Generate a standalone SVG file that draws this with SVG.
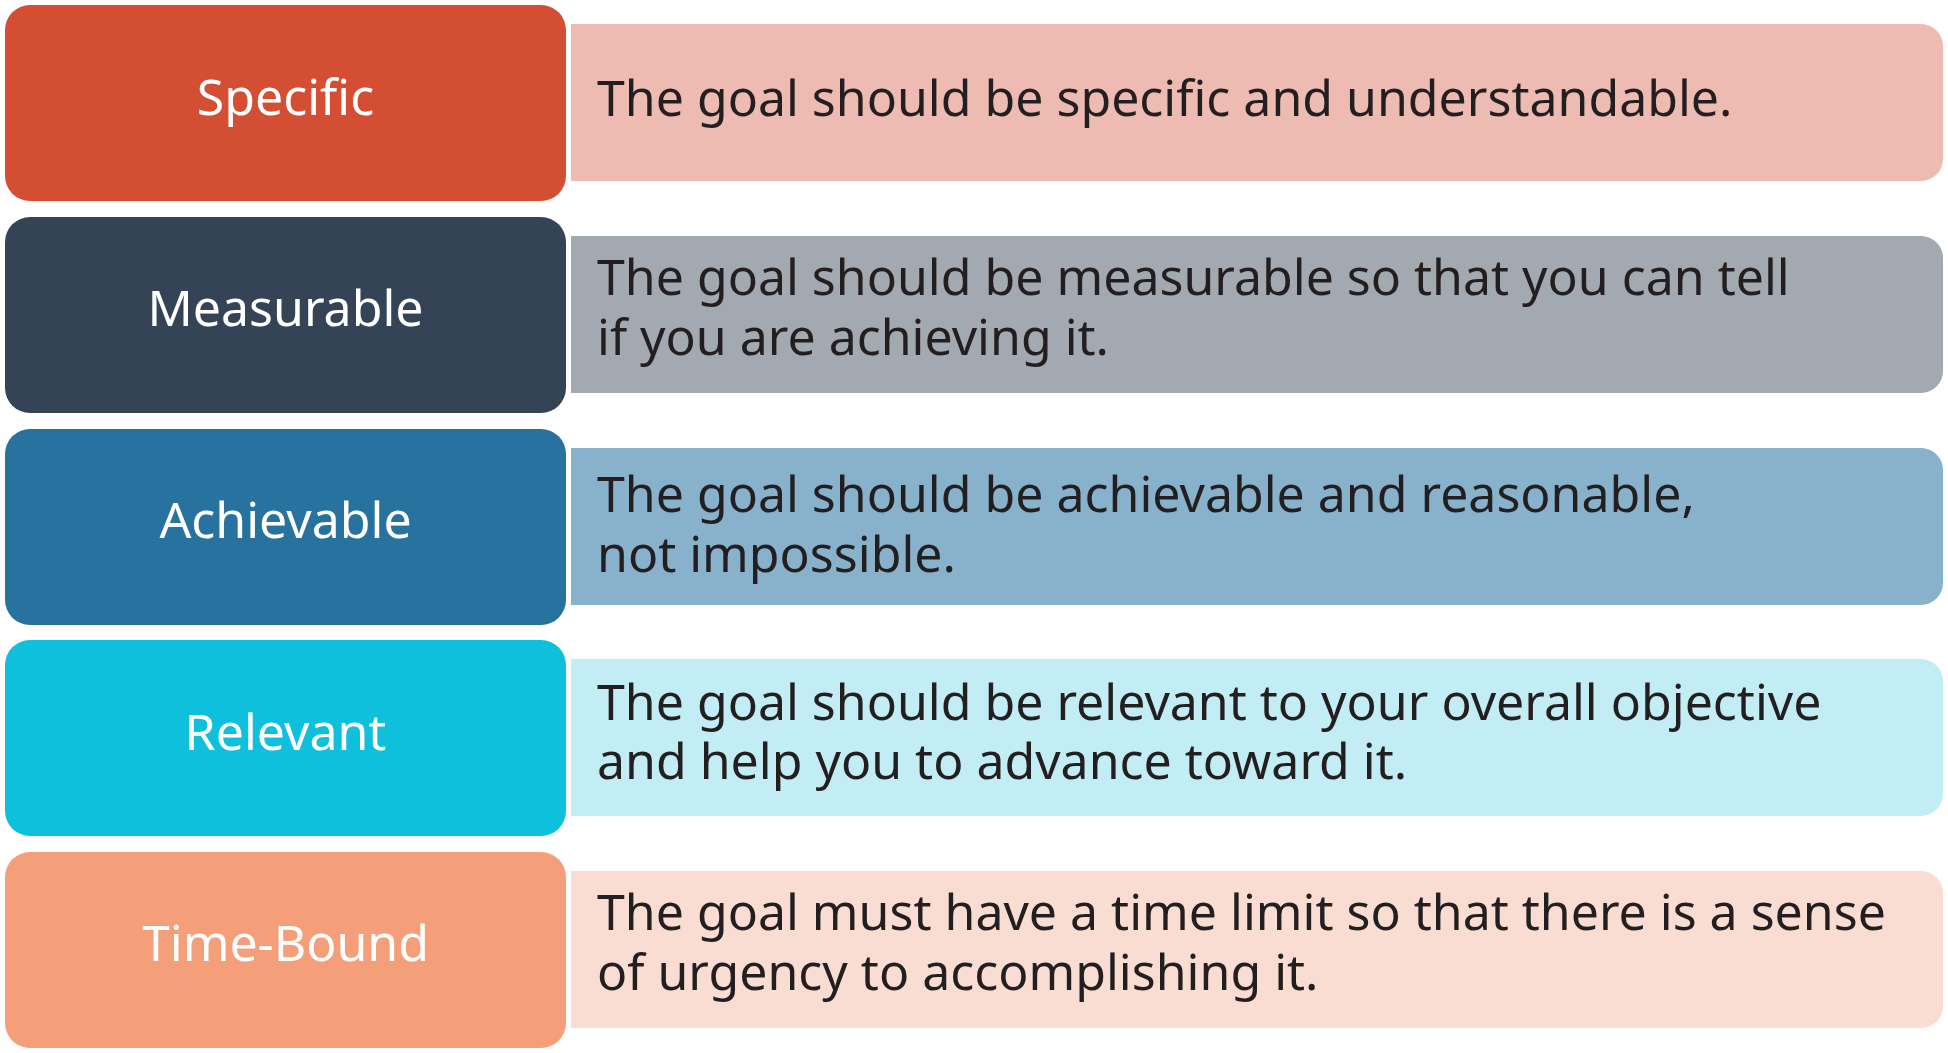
<svg xmlns="http://www.w3.org/2000/svg" width="1948" height="1053" viewBox="0 0 1948 1053">
<style>
.lbl{font-family:"Noto Sans","Open Sans",sans-serif;font-size:50px;fill:#ffffff;text-anchor:middle}
.dsc{font-family:"Noto Sans","Open Sans",sans-serif;font-size:50px;fill:#231f20}
</style>
<rect width="1948" height="1053" fill="#ffffff"/>
<g id="connectors"></g>
<g id="specific">
<rect x="5" y="5" width="561" height="196" rx="25" fill="#d44e33"/>
<path d="M571 24H1921a22 22 0 0 1 22 22V159a22 22 0 0 1 -22 22H571Z" fill="#edbbb1"/>
<text class="lbl" x="285.5" y="115">Specific</text>
<text class="dsc" x="597" y="116">The goal should be specific and understandable.</text>
</g>
<g id="measurable">
<rect x="5" y="217" width="561" height="196" rx="25" fill="#344456"/>
<path d="M571 236H1921a22 22 0 0 1 22 22V371a22 22 0 0 1 -22 22H571Z" fill="#a2a9b1"/>
<text class="lbl" x="285.5" y="326">Measurable</text>
<text class="dsc" x="597" y="295">The goal should be measurable so that you can tell</text>
<text class="dsc" x="597" y="355">if you are achieving it.</text>
</g>
<g id="achievable">
<rect x="5" y="429" width="561" height="196" rx="25" fill="#27729f"/>
<path d="M571 448H1921a22 22 0 0 1 22 22V583a22 22 0 0 1 -22 22H571Z" fill="#88b1cb"/>
<text class="lbl" x="285.5" y="538">Achievable</text>
<text class="dsc" x="597" y="512">The goal should be achievable and reasonable,</text>
<text class="dsc" x="597" y="572">not impossible.</text>
</g>
<g id="relevant">
<rect x="5" y="640" width="561" height="196" rx="25" fill="#0fc0dc"/>
<path d="M571 659H1921a22 22 0 0 1 22 22V794a22 22 0 0 1 -22 22H571Z" fill="#c2edf4"/>
<text class="lbl" x="285.5" y="750">Relevant</text>
<text class="dsc" x="597" y="720">The goal should be relevant to your overall objective</text>
<text class="dsc" x="597" y="779">and help you to advance toward it.</text>
</g>
<g id="time-bound">
<rect x="5" y="852" width="561" height="196" rx="25" fill="#f59f7a"/>
<path d="M571 871H1921a22 22 0 0 1 22 22V1006a22 22 0 0 1 -22 22H571Z" fill="#f9ddd2"/>
<text class="lbl" x="285.5" y="961">Time-Bound</text>
<text class="dsc" x="597" y="930">The goal must have a time limit so that there is a sense</text>
<text class="dsc" x="597" y="990">of urgency to accomplishing it.</text>
</g>
</svg>
